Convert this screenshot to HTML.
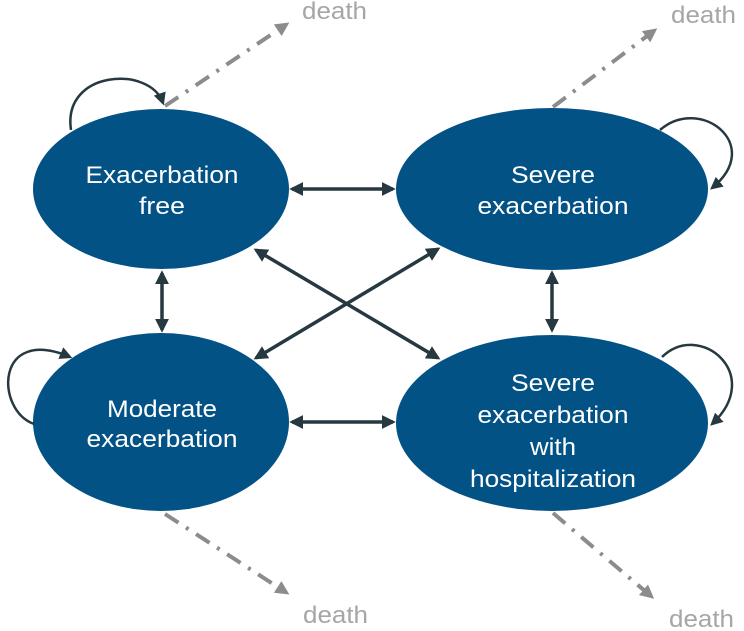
<!DOCTYPE html>
<html><head><meta charset="utf-8"><style>
html,body{margin:0;padding:0;background:#fff;width:744px;height:631px;overflow:hidden}
svg{display:block}
.t{font-family:"Liberation Sans",sans-serif;font-size:24px;fill:#fff;text-anchor:middle}
.d{font-family:"Liberation Sans",sans-serif;font-size:24px;fill:#a6a6a6}
</style></head><body>
<svg width="744" height="631" viewBox="0 0 744 631" xmlns="http://www.w3.org/2000/svg">
<defs>
<marker id="a" viewBox="0 0 10 10" refX="8" refY="5" markerWidth="4" markerHeight="4" orient="auto-start-reverse"><path d="M0,0 L10,5 L0,10 z" fill="#263840"/></marker>
<marker id="b" viewBox="0 0 10 10" refX="8" refY="5" markerWidth="5" markerHeight="5" orient="auto"><path d="M0,0 L10,5 L0,10 z" fill="#263840"/></marker>
<marker id="g" viewBox="0 0 10 10" refX="8" refY="5" markerWidth="3.5" markerHeight="3.5" orient="auto"><path d="M0,0 L10,5 L0,10 z" fill="#8c8c8c"/></marker>
</defs>
<g fill="#035285">
<ellipse cx="161" cy="189" rx="128" ry="80"/>
<ellipse cx="552" cy="189" rx="156" ry="81"/>
<ellipse cx="161" cy="422" rx="128" ry="89"/>
<ellipse cx="552" cy="423" rx="156" ry="88"/>
</g>
<g class="t">
<text x="162" y="183" textLength="153" lengthAdjust="spacingAndGlyphs">Exacerbation</text>
<text x="162" y="214" textLength="46" lengthAdjust="spacingAndGlyphs">free</text>
<text x="553" y="183" textLength="84" lengthAdjust="spacingAndGlyphs">Severe</text>
<text x="553" y="214" textLength="151" lengthAdjust="spacingAndGlyphs">exacerbation</text>
<text x="162" y="417" textLength="110" lengthAdjust="spacingAndGlyphs">Moderate</text>
<text x="162" y="447" textLength="151" lengthAdjust="spacingAndGlyphs">exacerbation</text>
<text x="553" y="391" textLength="84" lengthAdjust="spacingAndGlyphs">Severe</text>
<text x="553" y="423" textLength="151" lengthAdjust="spacingAndGlyphs">exacerbation</text>
<text x="553" y="455" textLength="46" lengthAdjust="spacingAndGlyphs">with</text>
<text x="553" y="487" textLength="166" lengthAdjust="spacingAndGlyphs">hospitalization</text>
</g>
<g stroke="#263840" stroke-width="3.5" fill="none" marker-start="url(#a)" marker-end="url(#a)">
<line x1="292" y1="189" x2="393" y2="189"/>
<line x1="292" y1="422" x2="393" y2="422"/>
<line x1="162" y1="273" x2="162" y2="330"/>
<line x1="552" y1="273" x2="552" y2="330"/>
<line x1="256" y1="250" x2="438" y2="358"/>
<line x1="438" y1="249" x2="256" y2="358"/>
</g>
<g stroke="#263840" stroke-width="2.5" fill="none" marker-end="url(#b)">
<path d="M71,130 C62,70 150,65 163,103"/>
<path d="M660,130 C700,95 765,145 712,188"/>
<path d="M34,424 C-5,410 -5,325 70,357"/>
<path d="M662,357 C700,320 765,375 712,424"/>
</g>
<g stroke="#8c8c8c" stroke-width="4" fill="none" stroke-dasharray="16,9,3,9" marker-end="url(#g)">
<line x1="165" y1="106" x2="287" y2="24"/>
<line x1="553" y1="107" x2="655" y2="30"/>
<line x1="165" y1="514" x2="287" y2="593"/>
<line x1="553" y1="513" x2="652" y2="597"/>
</g>
<text class="d" x="302" y="19" textLength="65" lengthAdjust="spacingAndGlyphs">death</text>
<text class="d" x="671" y="23" textLength="65" lengthAdjust="spacingAndGlyphs">death</text>
<text class="d" x="303" y="623" textLength="65" lengthAdjust="spacingAndGlyphs">death</text>
<text class="d" x="669" y="627" textLength="65" lengthAdjust="spacingAndGlyphs">death</text>
</svg>
</body></html>
